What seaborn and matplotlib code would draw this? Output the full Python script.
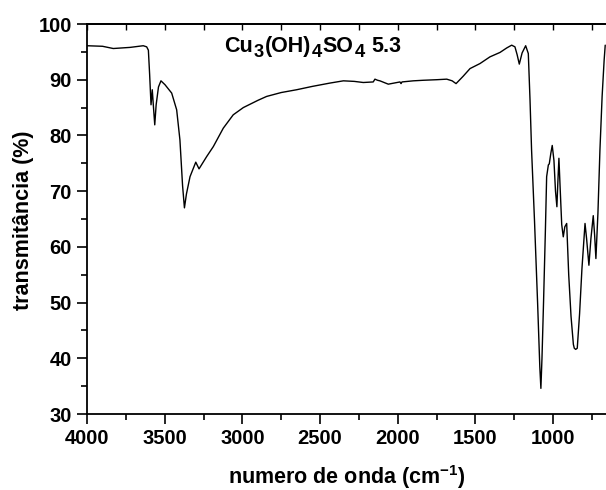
import matplotlib
matplotlib.use("Agg")
import matplotlib.pyplot as plt
import seaborn as sns
import pandas as pd
from matplotlib.ticker import MultipleLocator

# ---- data ----
wavenumber = [4002, 3900, 3831, 3723, 3638, 3616, 3605, 3597, 3588, 3580, 3572, 3564,
              3555, 3540, 3524, 3498, 3455, 3423, 3402, 3385, 3373, 3360, 3337, 3300,
              3279, 3230, 3187, 3123, 3059, 2994, 2900, 2844, 2750, 2651, 2550, 2436,
              2350, 2280, 2222, 2158, 2147, 2130, 2115, 2061, 1986, 1979, 1973, 1900,
              1836, 1750, 1685, 1650, 1625, 1580, 1535, 1471, 1407, 1342, 1299, 1267,
              1246, 1232, 1218, 1200, 1177, 1160, 1149, 1139, 1120, 1100, 1086, 1079,
              1072, 1062, 1050, 1042, 1031, 1025, 1015, 1006, 995, 985, 976, 970,
              963, 955, 945, 935, 925, 913, 900, 885, 870, 864, 855, 845, 830, 815,
              795, 785, 770, 757, 742, 733, 725, 712, 699, 685, 672, 665]
transmittance = [96.1, 96.0, 95.6, 95.8, 96.1, 95.9, 95.3, 91.0, 85.5, 88.2, 85.0, 81.9,
                 85.5, 88.7, 89.8, 89.1, 87.6, 84.6, 79.2, 71.0, 67.0, 69.5, 72.6, 75.2,
                 74.0, 76.2, 78.0, 81.3, 83.7, 85.0, 86.3, 87.0, 87.7, 88.2, 88.8, 89.4,
                 89.8, 89.7, 89.5, 89.6, 90.1, 89.9, 89.8, 89.2, 89.6, 89.3, 89.6, 89.8,
                 89.9, 90.0, 90.1, 89.8, 89.3, 90.6, 92.0, 92.9, 94.1, 94.9, 95.7, 96.2,
                 95.9, 94.5, 92.8, 94.8, 96.1, 94.7, 86.4, 77.4, 64.6, 49.8, 38.5, 34.6,
                 40.0, 50.0, 63.0, 72.6, 74.7, 74.9, 76.8, 78.2, 75.5, 70.0, 67.2, 71.5,
                 75.9, 70.5, 64.0, 61.8, 63.6, 64.2, 55.0, 47.5, 42.5, 41.8, 41.6, 41.8,
                 48.0, 56.0, 64.2, 61.5, 56.7, 61.5, 65.6, 62.0, 57.9, 66.0, 77.4, 87.0,
                 93.5, 96.2]

x_ticks = [4000, 3500, 3000, 2500, 2000, 1500, 1000]
y_ticks = [30, 40, 50, 60, 70, 80, 90, 100]
# title pieces: (text, is_subscript)
title_pieces = [("Cu", False), ("3", True), ("(OH)", False), ("4", True),
                ("SO", False), ("4", True), ("5.3", False)]
x_label = r"numero de onda (cm$^{\mathbf{-1}}$)"
y_label = "transmitância (%)"

df = pd.DataFrame({"wavenumber": wavenumber, "T": transmittance})

sns.set_style("ticks")
plt.rcParams["font.family"] = ["Liberation Sans", "DejaVu Sans"]
plt.rcParams["font.weight"] = "bold"
plt.rcParams["text.color"] = "black"
plt.rcParams["axes.labelcolor"] = "black"
plt.rcParams["xtick.color"] = "black"
plt.rcParams["ytick.color"] = "black"
plt.rcParams["mathtext.fontset"] = "custom"
plt.rcParams["mathtext.rm"] = "Liberation Sans:bold"
plt.rcParams["mathtext.bf"] = "Liberation Sans:bold"
plt.rcParams["mathtext.it"] = "Liberation Sans:bold"

fig = plt.figure(figsize=(6.06, 4.90), dpi=100)
ax = fig.add_axes([87 / 606, 1 - 414 / 490, 1 - 87 / 606, (414 - 24) / 490])

sns.lineplot(data=df, x="wavenumber", y="T", sort=False, estimator=None,
             color="black", linewidth=1.0, ax=ax)

ax.set_xlim(4000, 660)
ax.set_ylim(30, 100)
ax.set_xticks(x_ticks)
ax.set_yticks(y_ticks)
ax.xaxis.set_minor_locator(MultipleLocator(250))
ax.yaxis.set_minor_locator(MultipleLocator(5))

for s in ["left", "bottom", "top"]:
    ax.spines[s].set_visible(True)
    ax.spines[s].set_linewidth(1.3)
    ax.spines[s].set_color("black")
ax.spines["right"].set_visible(False)

ax.tick_params(axis="both", which="major", direction="out", length=7, width=1.2,
               labelsize=14.5, colors="black", labelcolor="black", pad=4)
ax.tick_params(axis="both", which="minor", direction="out", length=4.5, width=1.2,
               colors="black")
ax.tick_params(axis="x", top=False)

sec = ax.secondary_xaxis("top")
sec.set_xticks(x_ticks)
sec.xaxis.set_minor_locator(MultipleLocator(250))
sec.tick_params(which="both", direction="in", length=4, width=1.0, labeltop=False,
                colors="black")
sec.spines["top"].set_linewidth(1.3)
sec.spines["top"].set_color("black")

for lbl in ax.get_xticklabels() + ax.get_yticklabels():
    lbl.set_fontweight("bold")
    lbl.set_color("black")

xl = ax.set_xlabel(x_label, fontsize=15.5, fontweight="bold", color="black")
xl.set_va("baseline")
ax.xaxis.set_label_coords(0.501, (414 - 484) / 390)
yl = ax.set_ylabel(y_label, fontsize=15.5, fontweight="bold", color="black")
yl.set_va("center")
ax.yaxis.set_label_coords((24 - 87) / 519, (414 - 220) / 390)

# title built from pieces so that subscripts are large, as in the reference
fig.canvas.draw()
renderer = fig.canvas.get_renderer()
main_size, sub_size = 15.5, 13.2
offset_pt = 0.0
for i, (txt, is_sub) in enumerate(title_pieces):
    if txt == "5.3":
        offset_pt += 4.0
    t = ax.annotate(txt, xy=(3118, 95.0), xycoords="data",
                    xytext=(offset_pt, -4.0 if is_sub else 0.0),
                    textcoords="offset points",
                    fontsize=sub_size if is_sub else main_size,
                    fontweight="bold", ha="left", va="baseline", color="black")
    bb = t.get_window_extent(renderer)
    offset_pt += bb.width * 72.0 / fig.dpi + 0.6

fig.savefig("out.png", dpi=100)
